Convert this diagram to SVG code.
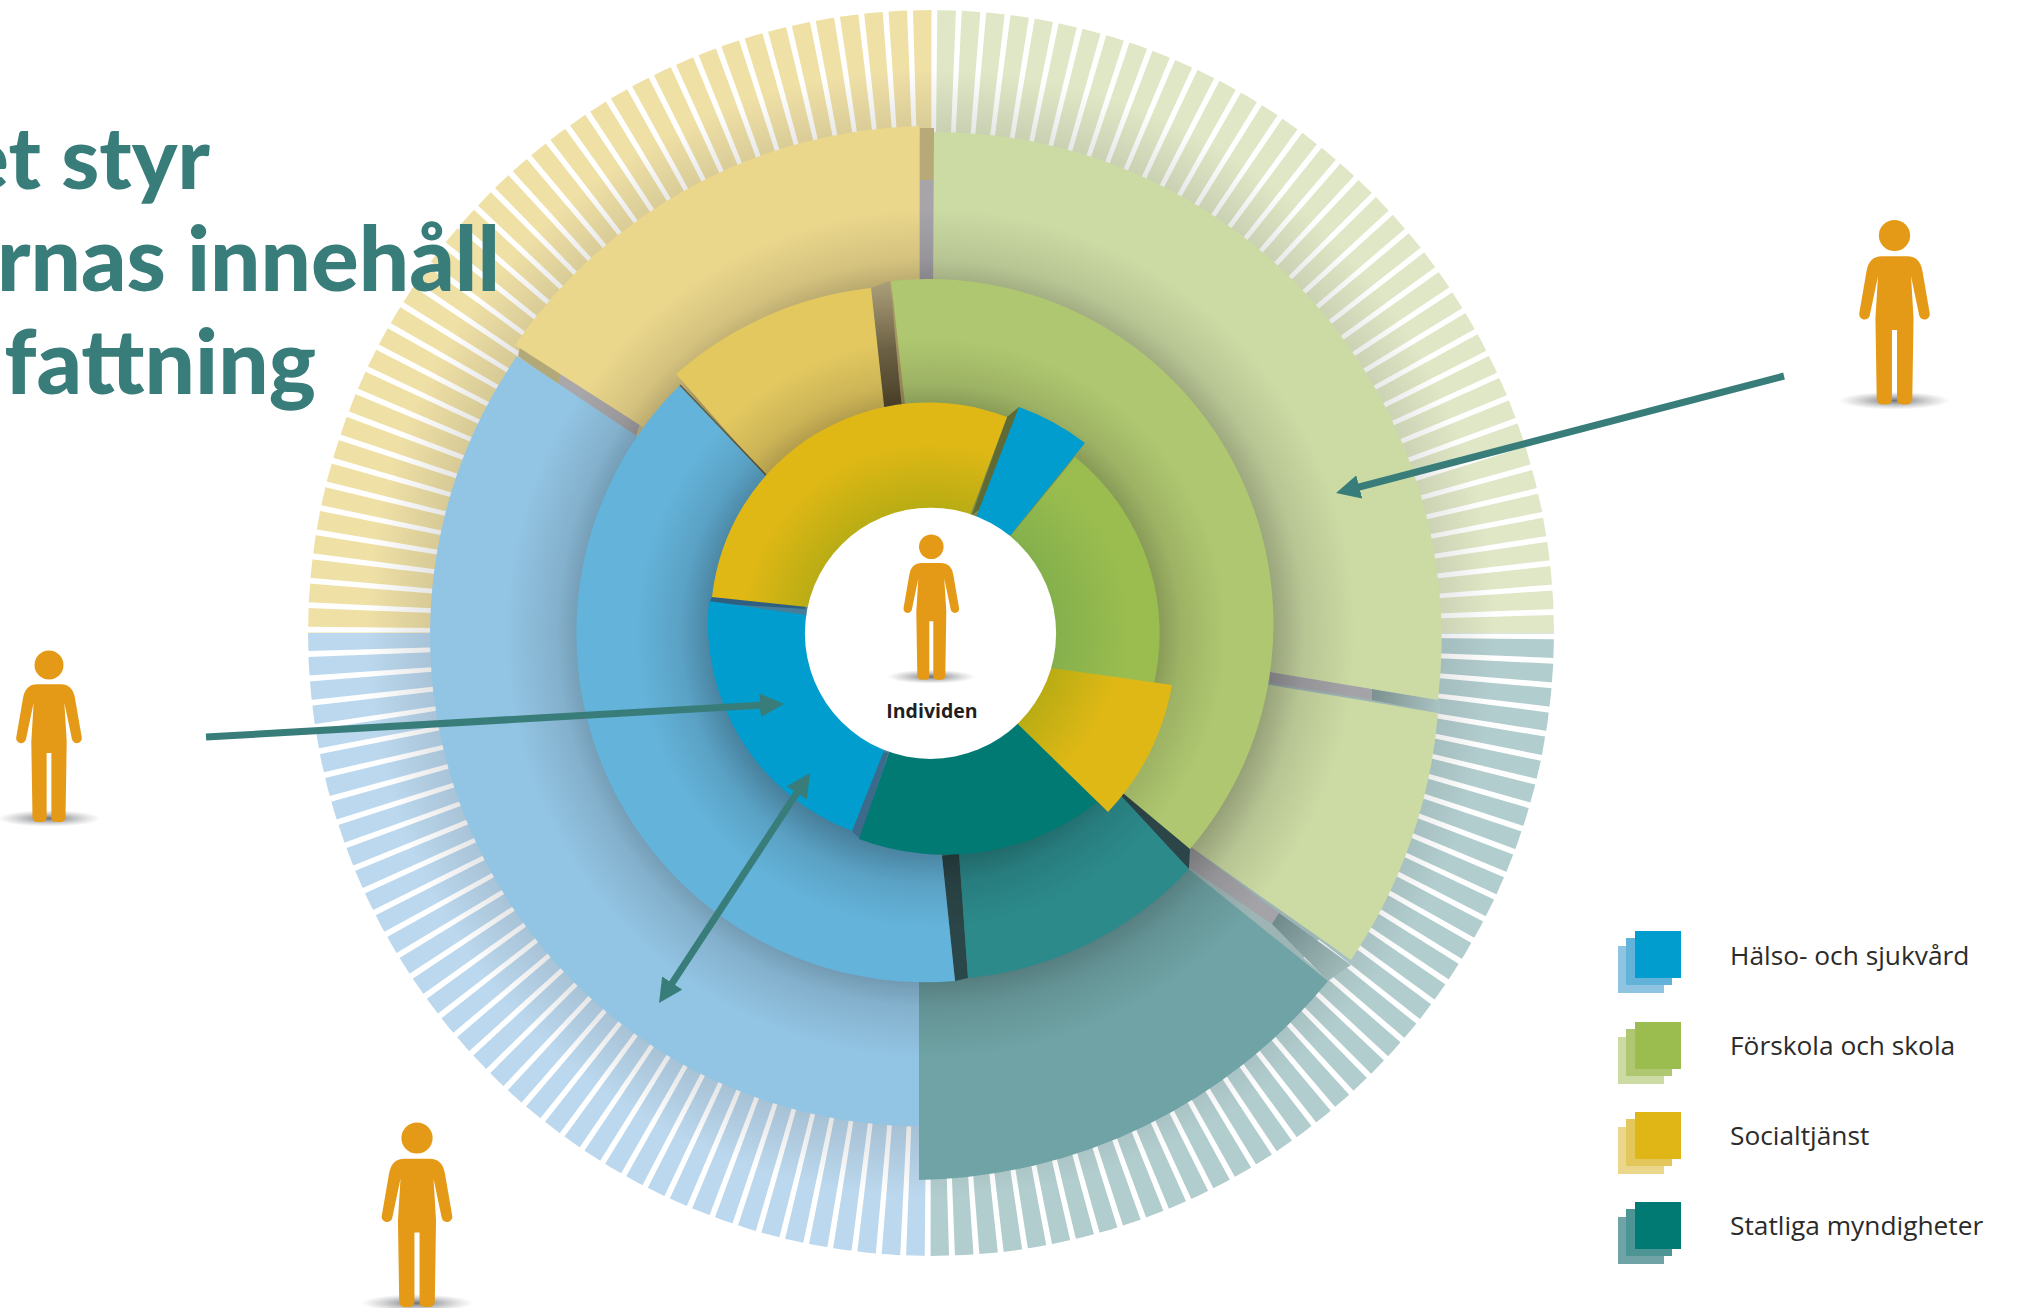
<svg xmlns="http://www.w3.org/2000/svg" width="2018" height="1308" viewBox="0 0 2018 1308">
<style>
.t{fill:#387d7a;font-family:"Lato","Liberation Sans",sans-serif;font-weight:900;font-size:89px;text-anchor:end}
.l{fill:#2b2b2b;font-family:"Open Sans","Liberation Sans",sans-serif;font-size:26.3px}
.p{fill:#e59a17}
.arrow{stroke:#387d7a;stroke-width:7;fill:none}
</style>
<defs>
<radialGradient id="s3" gradientUnits="userSpaceOnUse" cx="931" cy="633" r="565"><stop offset=".86" stop-color="#000" stop-opacity=".12"/><stop offset="1" stop-color="#000" stop-opacity="0"/></radialGradient>
<radialGradient id="s2" gradientUnits="userSpaceOnUse" cx="931" cy="633" r="425"><stop offset=".78" stop-color="#000" stop-opacity=".3"/><stop offset=".88" stop-color="#000" stop-opacity=".1"/><stop offset="1" stop-color="#000" stop-opacity="0"/></radialGradient>
<radialGradient id="s1" gradientUnits="userSpaceOnUse" cx="931" cy="633" r="295"><stop offset=".72" stop-color="#000" stop-opacity=".3"/><stop offset=".85" stop-color="#000" stop-opacity=".1"/><stop offset="1" stop-color="#000" stop-opacity="0"/></radialGradient>
<radialGradient id="yg" gradientUnits="userSpaceOnUse" cx="931" cy="633" r="190"><stop offset=".65" stop-color="#b8ac14"/><stop offset="1" stop-color="#dfb815"/></radialGradient>
<radialGradient id="gg" gradientUnits="userSpaceOnUse" cx="931" cy="633" r="200"><stop offset=".62" stop-color="#84b04c"/><stop offset="1" stop-color="#9bbd4f"/></radialGradient>
<radialGradient id="sh"><stop offset="0" stop-color="#4a5058" stop-opacity=".8"/><stop offset="1" stop-color="#888" stop-opacity="0"/></radialGradient>
<linearGradient id="seamTop" gradientUnits="userSpaceOnUse" x1="880" y1="285" x2="893" y2="412"><stop offset="0" stop-color="#a89c78"/><stop offset=".5" stop-color="#6e6245"/><stop offset="1" stop-color="#564a2e"/></linearGradient>
<linearGradient id="seamR" gradientUnits="userSpaceOnUse" x1="1372" y1="690" x2="1440" y2="703"><stop offset="0" stop-color="#7b908f"/><stop offset="1" stop-color="#a9c2c2"/></linearGradient>
<linearGradient id="seamD" gradientUnits="userSpaceOnUse" x1="1279" y1="913" x2="1345" y2="970"><stop offset="0" stop-color="#70898a"/><stop offset="1" stop-color="#a0baba"/></linearGradient>
<marker id="head" markerUnits="userSpaceOnUse" markerWidth="24" markerHeight="24" refX="4" refY="12" orient="auto-start-reverse"><path d="M0 0L24 12L0 24Z" fill="#387d7a"/></marker>
<g id="person">
<ellipse cx="0" cy="130" rx="44" ry="7" fill="url(#sh)"/>
<circle class="p" cx="0" cy="0" r="12.3"/>
<path class="p" d="M-10 16.3H10Q20 16.3 22 28L27.7 61A4.2 4.2 0 0 1 19.5 63L13 32L15 65L14 129Q13.5 133 10 133H6Q2 133 2 129V74.5H-2V129Q-2 133-6 133H-10Q-13.5 133-14 129L-15 65L-13 32L-19.5 63A4.2 4.2 0 0 1-27.7 61L-22 28Q-20 16.3-10 16.3Z"/>
</g>
</defs>
<rect width="2018" height="1308" fill="#fff"/>
<g id="wheel">
<g id="ticks">
<path d="M931 633L931 10A623 623 0 0 1 1554 633Z" fill="#dfe7c6"/>
<path d="M931 633L1554 633A623 623 0 0 1 931 1256Z" fill="#b2cdce"/>
<path d="M931 633L931 1256A623 623 0 0 1 308 633Z" fill="#bbd8ee"/>
<path d="M931 633L308 633A623 623 0 0 1 931 10Z" fill="#efe0a6"/>
<circle cx="931" cy="633" r="559" fill="none" stroke="#fff" stroke-width="130" pathLength="160" stroke-dasharray="0.24 0.76" stroke-dashoffset="0.98"/>
<circle cx="931" cy="633" r="565" fill="url(#s3)"/>
</g>
<g id="seams-outer">
<rect x="920" y="128" width="14" height="52" fill="#b8aa78"/>
<rect x="920" y="180" width="14" height="110" fill="#a7a5aa"/>
<path d="M1270 672L1372 689V700L1270 683Z" fill="#a4a4a8"/>
<path d="M1372 689L1440 700V713L1372 700Z" fill="url(#seamR)"/>
<path d="M1191 847L1279 913L1272 924L1190 868Z" fill="#a4a3a7"/>
<path d="M1279 913L1351 965L1328 981L1272 924Z" fill="url(#seamD)"/>
<path d="M520 347L561 372L558 385L518 356Z" fill="#b3a878"/>
<path d="M561 372L640 424L636 436L558 385Z" fill="#a9a7a9"/>
</g>
<g id="ring3">
<path d="M919 604L919 126A507 507 0 0 0 515 345Z" fill="#ebd78c"/>
<path d="M931 633L517 356A491 491 0 0 0 919 1126Z" fill="#92c4e3"/>
<path d="M919 800L919 1180A540 540 0 0 0 1328 981L1190 870Z" fill="#6fa3a5"/>
<path d="M931 633L934 132A507 507 0 0 1 1438 700L1000 627Z" fill="#ccdba4"/>
<path d="M1000 640L1438 713A515 515 0 0 1 1351 960L1191 847L1000 700Z" fill="#ccdba4"/>
<circle cx="931" cy="633" r="425" fill="url(#s2)"/>
</g>
<g id="seams-mid">
<path d="M871 288L890 281L902 410L884 412Z" fill="url(#seamTop)"/>
<path d="M942 856L959 853L968 978L955 981Z" fill="#2b4648"/>
<path d="M1190 849L1189 869L1060 748L1075 735Z" fill="#2c4548"/>
</g>
<g id="ring2">
<path d="M900 550L871 288A352 352 0 0 0 676 374L764 474L800 520Z" fill="#e3c860"/>
<path d="M931 633L891 281A345 345 0 0 1 1190 849Z" fill="#afc770"/>
<path d="M940 600L959 853L968 978A348 348 0 0 0 1189 869Z" fill="#2c8a8b"/>
<path d="M925 650L942 856L955 981A349 349 0 0 1 680 385L931 648Z" fill="#64b3da"/>
<path d="M680 385L766 475" stroke="#5f5d40" stroke-width="1.5"/>
<circle cx="931" cy="633" r="295" fill="url(#s1)"/>
</g>
<g id="ring1">
<path d="M1007 417L1019 407L985 505L972 515Z" fill="#5f6a35"/>
<path d="M852 831L860 839L888 753L882 752Z" fill="#3b6a8a"/>
<path d="M1023 720L1108 812L1098 803L1015 728Z" fill="#1f5557"/>
<path d="M712 597L805 603V609L709 603Z" fill="#2f5f80"/>
<path d="M931 633L859 839A245 245 0 0 0 1100 800Z" fill="#007a73"/>
<path d="M931 633L852 831A222 222 0 0 1 709 601Z" fill="#009dce"/>
<path d="M931 620L1007 417A218 218 0 0 0 712 597Z" fill="url(#yg)"/>
<path d="M931 633L1019 407A243 243 0 0 1 1085 443Z" fill="#009dce"/>
<path d="M931 633L1075 457A227 227 0 0 1 1152 692L945 662Z" fill="url(#gg)"/>
<path d="M945 653L1172 685A250 250 0 0 1 1108 812Z" fill="url(#yg)"/>
</g>
</g>
<g id="individen">
<circle cx="930.5" cy="633.3" r="125.6" fill="#fff"/>
<use href="#person" transform="translate(931.3 546.7)"/>
<text x="932" y="718" text-anchor="middle" style="font-family:'Open Sans','Liberation Sans',sans-serif;font-weight:700;font-size:19.5px;fill:#1f1f1f">Individen</text>
</g>
<g id="connectors">
<path class="arrow" d="M1784 376L1355.4 488" marker-end="url(#head)"/>
<path class="arrow" d="M206 737L764 705.1" marker-end="url(#head)"/>
<path class="arrow" d="M670 986.3L799 789.7" marker-start="url(#head)" marker-end="url(#head)"/>
</g>
<g id="person-right"><use href="#person" transform="translate(1894.5 235.5) scale(1.27)"/></g>
<g id="person-left"><use href="#person" transform="translate(49 665) scale(1.18)"/></g>
<g id="person-bottom"><use href="#person" transform="translate(417 1138) scale(1.27)"/></g>
<g id="title">
<text class="t" x="210" y="189" style="font-size:86px">et styr</text>
<text class="t" x="500" y="291">rnas innehåll</text>
<text class="t" x="316" y="394">fattning</text>
</g>
<g id="legend">
<g id="legend-halso"><rect x="1618" y="946" width="46" height="47" fill="#8fc3e2"/><rect x="1626" y="938" width="46" height="47" fill="#62b2d9"/><rect x="1635" y="931" width="46" height="47" fill="#009dce"/><text class="l" x="1730" y="965">Hälso- och sjukvård</text></g>
<g id="legend-forskola"><rect x="1618" y="1037" width="46" height="47" fill="#ccdba4"/><rect x="1626" y="1029" width="46" height="47" fill="#afc770"/><rect x="1635" y="1022" width="46" height="47" fill="#9bbd4f"/><text class="l" x="1730" y="1055">Förskola och skola</text></g>
<g id="legend-social"><rect x="1618" y="1127" width="46" height="47" fill="#ebd78c"/><rect x="1626" y="1119" width="46" height="47" fill="#e3c65c"/><rect x="1635" y="1112" width="46" height="47" fill="#dfb615"/><text class="l" x="1730" y="1145">Socialtjänst</text></g>
<g id="legend-statliga"><rect x="1618" y="1217" width="46" height="47" fill="#6fa3a5"/><rect x="1626" y="1209" width="46" height="47" fill="#4d9495"/><rect x="1635" y="1202" width="46" height="47" fill="#007a73"/><text class="l" x="1730" y="1235">Statliga myndigheter</text></g>
</g>
</svg>
